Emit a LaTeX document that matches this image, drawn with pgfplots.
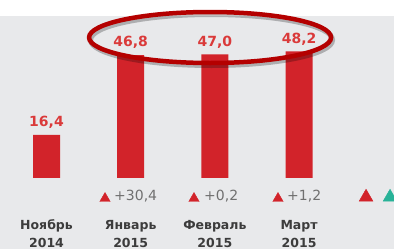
\documentclass[border=0pt]{standalone}
\usepackage{fontspec}
\setmainfont{DejaVu Sans}
\usepackage{pgfplots}
\pgfplotsset{compat=1.18}
\definecolor{bggray}{RGB}{232,233,235}
\definecolor{barred}{RGB}{210,35,42}
\definecolor{labred}{RGB}{218,58,58}
\definecolor{ellred}{RGB}{180,0,0}
\definecolor{deltagray}{RGB}{112,112,112}
\definecolor{catgray}{RGB}{60,60,60}
\definecolor{teal2}{RGB}{40,178,152}
\begin{document}
\begin{tikzpicture}
\begin{axis}[
  scale only axis, width=394bp, height=249bp,
  xmin=-0.5525, xmax=4.128, ymin=-27.02, ymax=67.73,
  axis lines=none, xtick=\empty, ytick=\empty,
  /pgf/number format/.cd, use comma, fixed, fixed zerofill, precision=1, assume math mode=true,
]
\fill[white] (rel axis cs:0,0) rectangle (rel axis cs:1,1);
\fill[bggray] (rel axis cs:0,0) rectangle (rel axis cs:1,0.9357);
\addplot[ybar, bar width=27bp, fill=barred, draw=none,
  nodes near coords,
  every node near coord/.append style={inner sep=0pt, yshift=6bp, text=labred,
    font=\fontsize{14bp}{16bp}\selectfont\bfseries}]
  coordinates {(0,16.4) (1,46.8) (2,47.0) (3,48.2)};
% delta triangles
\addplot[only marks, mark=triangle*, mark size=6pt, color=barred]
  coordinates {(0.695,-7.8) (1.752,-7.8) (2.750,-7.8)};
% legend triangles
\addplot[only marks, mark=triangle*, mark size=8pt, color=barred]
  coordinates {(3.796,-7.3)};
\addplot[only marks, mark=triangle*, mark size=8pt, color=teal2]
  coordinates {(4.081,-7.3)};
% delta texts
\tikzset{dl/.style={anchor=base west, inner sep=0pt, text=deltagray, font=\fontsize{14bp}{16bp}\selectfont}}
\node[dl] at (axis cs:0.802,-8.75) {+30,4};
\node[dl] at (axis cs:1.871,-8.75) {+0,2};
\node[dl] at (axis cs:2.857,-8.75) {+1,2};
% category labels
\tikzset{cl/.style={anchor=base, inner sep=0pt, text=catgray, font=\fontsize{12.5bp}{15bp}\selectfont\bfseries}}
\node[cl] at (axis cs:0,-19.41) {Ноябрь};
\node[cl] at (axis cs:0,-26.26) {2014};
\node[cl] at (axis cs:1,-19.41) {Январь};
\node[cl] at (axis cs:1,-26.26) {2015};
\node[cl] at (axis cs:2,-19.41) {Февраль};
\node[cl] at (axis cs:2,-26.26) {2015};
\node[cl] at (axis cs:3,-19.41) {Март};
\node[cl] at (axis cs:3,-26.26) {2015};
% highlight ellipse with shadow
\draw[black, opacity=0.25, line width=5bp] ([xshift=1.5bp,yshift=-2.5bp]axis cs:1.943,53.46) ellipse [x radius=121bp, y radius=25.5bp];
\draw[ellred, line width=4.5bp] (axis cs:1.943,53.46) ellipse [x radius=121bp, y radius=25.5bp];
\end{axis}
\pgfresetboundingbox
\useasboundingbox (current axis.south west) rectangle (current axis.north east);
\end{tikzpicture}
\end{document}
